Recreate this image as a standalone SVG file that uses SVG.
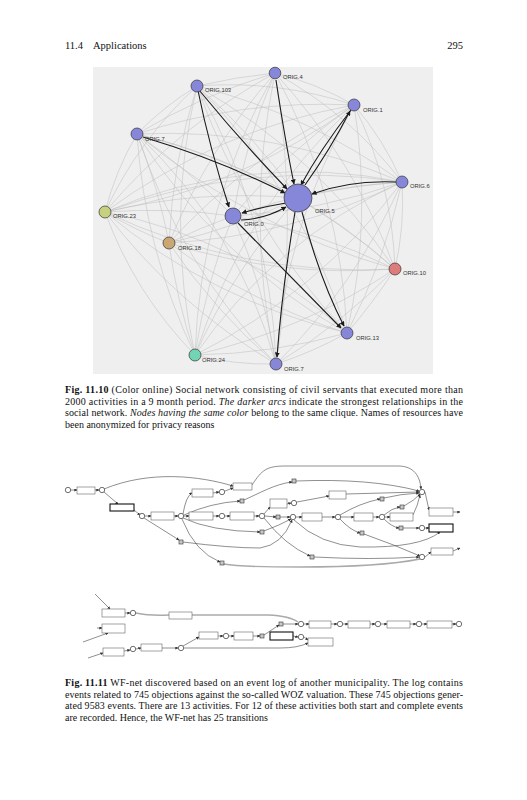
<svg xmlns="http://www.w3.org/2000/svg" width="527" height="800" viewBox="0 0 527 800">
<style>
.hdr{font-family:"Liberation Serif",serif;font-size:10.5px;fill:#111}
.cap{font-family:"Liberation Serif",serif;font-size:10px;fill:#111}
.b{font-weight:bold}
.i{font-style:italic}
.lbl{font-family:"Liberation Sans",sans-serif;font-size:5.8px;fill:#333}
.soft{fill:none;stroke:#bdbdbd;stroke-width:0.5}
.dark{fill:none;stroke:#1a1a1a;stroke-width:1.1;marker-end:url(#ah)}
.nb{fill:#8787da;stroke:#333;stroke-width:0.7}
.arc{fill:none;stroke:#444;stroke-width:0.6}
.arca{fill:none;stroke:#444;stroke-width:0.6;marker-end:url(#wa)}
.grey{fill:none;stroke:#aaa;stroke-width:1.4}
.pl{fill:#fff;stroke:#333;stroke-width:0.7}
.tr{fill:#fff;stroke:#666;stroke-width:0.6}
.tb{fill:#fff;stroke:#111;stroke-width:1.1}
.sq{fill:#c8c8c8;stroke:#333;stroke-width:0.6}
</style>
<defs>
<marker id="ah" viewBox="0 0 10 10" refX="9" refY="5" markerWidth="5" markerHeight="5" markerUnits="userSpaceOnUse" orient="auto"><path d="M0 0L10 5L0 10z" fill="#1a1a1a"/></marker>
<marker id="wa" viewBox="0 0 10 10" refX="9" refY="5" markerWidth="3" markerHeight="3" markerUnits="userSpaceOnUse" orient="auto"><path d="M0 0L10 5L0 10z" fill="#333"/></marker>
</defs>
<rect width="527" height="800" fill="#fff"/>
<text class="hdr" x="65" y="49">11.4</text>
<text class="hdr" x="93" y="49">Applications</text>
<text class="hdr" x="463" y="49" text-anchor="end">295</text>

<rect x="93" y="67" width="340" height="307" fill="#efefef"/>
<g id="connectors-sn">
<path class="soft" d="M275 73A600 600 0 0 0 197 86M275 73A300 300 0 0 1 354 105M275 73A600 600 0 0 0 137 134M275 73A400 400 0 0 1 402 182M275 73A600 600 0 0 0 105 212M275 73A600 600 0 0 0 233 216M275 73A600 600 0 0 0 169 243M275 73A600 600 0 0 1 395 269M275 73A600 600 0 0 1 347 333M275 73A600 600 0 0 0 195 355M275 73A900 900 0 0 1 276 364"/>
<path class="soft" d="M197 86A400 400 0 0 1 354 105M197 86A300 300 0 0 0 137 134M197 86A600 600 0 0 1 402 182M197 86A400 400 0 0 0 105 212M197 86A600 600 0 0 0 169 243M197 86A600 600 0 0 1 395 269M197 86A600 600 0 0 1 347 333M197 86A600 600 0 0 0 195 355M197 86A600 600 0 0 1 276 364"/>
<path class="soft" d="M354 105A600 600 0 0 0 137 134M354 105A300 300 0 0 1 402 182M354 105A600 600 0 0 0 105 212M354 105A600 600 0 0 0 233 216M354 105A600 600 0 0 0 169 243M354 105A400 400 0 0 1 395 269M354 105A600 600 0 0 1 347 333M354 105A600 600 0 0 0 195 355M354 105A600 600 0 0 0 276 364"/>
<path class="soft" d="M137 134A600 600 0 0 1 402 182M137 134A300 300 0 0 0 105 212M137 134A600 600 0 0 1 233 216M137 134A600 600 0 0 1 169 243M137 134A600 600 0 0 1 395 269M137 134A600 600 0 0 0 347 333M137 134A600 600 0 0 0 195 355M137 134A600 600 0 0 0 276 364"/>
<path class="soft" d="M402 182A600 600 0 0 0 105 212M402 182A600 600 0 0 1 233 216M402 182A600 600 0 0 1 169 243M402 182A300 300 0 0 1 395 269M402 182A600 600 0 0 1 347 333M402 182A600 600 0 0 1 195 355M402 182A600 600 0 0 1 276 364"/>
<path class="soft" d="M298 198A600 600 0 0 0 105 212M298 198A600 600 0 0 1 169 243M298 198A600 600 0 0 1 395 269M298 198A600 600 0 0 0 195 355M298 198A600 600 0 0 0 197 86M298 198A600 600 0 0 0 137 134M298 198A600 600 0 0 1 402 182"/>
<path class="soft" d="M105 212A600 600 0 0 1 233 216M105 212A400 400 0 0 0 169 243M105 212A600 600 0 0 0 395 269M105 212A600 600 0 0 0 347 333M105 212A400 400 0 0 0 195 355M105 212A600 600 0 0 0 276 364"/>
<path class="soft" d="M233 216A600 600 0 0 0 169 243M233 216A600 600 0 0 1 395 269M233 216A600 600 0 0 0 195 355M233 216A600 600 0 0 1 276 364M233 216A600 600 0 0 1 402 182"/>
<path class="soft" d="M169 243A600 600 0 0 0 395 269M169 243A600 600 0 0 0 347 333M169 243A600 600 0 0 0 195 355M169 243A600 600 0 0 0 276 364"/>
<path class="soft" d="M395 269A600 600 0 0 1 347 333M395 269A600 600 0 0 1 195 355M395 269A600 600 0 0 1 276 364M347 333A600 600 0 0 1 195 355M347 333A400 400 0 0 1 276 364M195 355A300 300 0 0 0 276 364"/>
<path class="soft" d="M105 212A600 600 0 0 0 354 105M137 134A700 700 0 0 0 395 269M197 86A700 700 0 0 0 347 333M275 73A700 700 0 0 0 276 364M105 212A500 500 0 0 1 402 182M195 355A500 500 0 0 1 402 182M276 364A500 500 0 0 0 137 134M347 333A500 500 0 0 0 105 212"/>
<path class="dark" d="M197 86Q210 150 229 207"/>
<path class="dark" d="M199 90Q240 140 287 189"/>
<path class="dark" d="M276 80Q285 140 294 184"/>
<path class="dark" d="M351 110Q320 150 301 185"/>
<path class="dark" d="M305 185Q330 150 350 111"/>
<path class="dark" d="M143 137Q220 160 285 193"/>
<path class="dark" d="M396 182Q350 180 312 194"/>
<path class="dark" d="M286 203Q262 207 242 213"/>
<path class="dark" d="M241 220Q265 219 286 207"/>
<path class="dark" d="M295 212Q282 290 277 357"/>
<path class="dark" d="M302 212Q320 280 344 326"/>
<path class="dark" d="M238 223L341 328"/>
</g>
<g id="n-orig4"><circle class="nb" cx="275" cy="73" r="5.8"/><text class="lbl" x="283" y="79">ORIG.4</text></g>
<g id="n-orig103"><circle class="nb" cx="197" cy="86" r="6"/><text class="lbl" x="205" y="92">ORIG.103</text></g>
<g id="n-orig1"><circle class="nb" cx="354" cy="105" r="6"/><text class="lbl" x="363" y="112">ORIG.1</text></g>
<g id="n-orig7a"><circle class="nb" cx="137" cy="134" r="6"/><text class="lbl" x="145" y="141">ORIG.7</text></g>
<g id="n-orig6"><circle class="nb" cx="402" cy="182" r="6"/><text class="lbl" x="410" y="188">ORIG.6</text></g>
<g id="n-orig5"><circle class="nb" cx="298" cy="198" r="14"/><text class="lbl" x="315" y="213">ORIG.5</text></g>
<g id="n-orig23"><circle cx="105" cy="212" r="6" fill="#c6d07e" stroke="#333" stroke-width="0.7"/><text class="lbl" x="113" y="218">ORIG.23</text></g>
<g id="n-orig0"><circle class="nb" cx="233" cy="216" r="8"/><text class="lbl" x="244" y="226">ORIG.0</text></g>
<g id="n-orig18"><circle cx="169" cy="243" r="6" fill="#caa673" stroke="#333" stroke-width="0.7"/><text class="lbl" x="178" y="250">ORIG.18</text></g>
<g id="n-orig10"><circle cx="395" cy="269" r="6" fill="#de7c7c" stroke="#333" stroke-width="0.7"/><text class="lbl" x="403" y="275">ORIG.10</text></g>
<g id="n-orig13"><circle class="nb" cx="347" cy="333" r="6"/><text class="lbl" x="356" y="340">ORIG.13</text></g>
<g id="n-orig24"><circle cx="195" cy="355" r="6" fill="#72d3b5" stroke="#333" stroke-width="0.7"/><text class="lbl" x="202" y="362">ORIG.24</text></g>
<g id="n-orig7"><circle class="nb" cx="276" cy="364" r="6"/><text class="lbl" x="284" y="371">ORIG.7</text></g>

<text class="cap" x="65" y="393" textLength="398" lengthAdjust="spacing"><tspan class="b">Fig. 11.10</tspan>  (Color online) Social network consisting of civil servants that executed more than</text>
<text class="cap" x="65" y="404.5" textLength="398" lengthAdjust="spacing">2000 activities in a 9 month period. <tspan class="i">The darker arcs</tspan> indicate the strongest relationships in the</text>
<text class="cap" x="65" y="416" textLength="398" lengthAdjust="spacing">social network. <tspan class="i">Nodes having the same color</tspan> belong to the same clique. Names of resources have</text>
<text class="cap" x="65" y="427.5">been anonymized for privacy reasons</text>

<g id="connectors-wf">
<path class="arca" d="M71 490L77 490"/>
<path class="arca" d="M95 490L99 490"/>
<path class="arca" d="M104 489C150 470 200 476 233 486"/>
<path class="arca" d="M104 492L118 504"/>
<path class="arca" d="M134 510L140 515"/>
<path class="arca" d="M145 516L151 516"/>
<path class="arca" d="M174 516L178 516"/>
<path class="arca" d="M144 518L179 540"/>
<path class="arca" d="M183 514Q186 496 192 493"/>
<path class="arca" d="M213 493L219 492"/>
<path class="arca" d="M225 491L233 488"/>
<path class="arca" d="M184 515Q210 503 240 501"/>
<path class="arca" d="M184 516L189 516"/>
<path class="arca" d="M213 516L219 516"/>
<path class="arca" d="M225 516L230 516"/>
<path class="arca" d="M254 516L259 516"/>
<path class="arca" d="M183 518Q210 531 260 532"/>
<path class="arca" d="M182 519Q195 552 220 562"/>
<path class="arca" d="M252 485C262 470 266 466 286 466L398 466C414 466 420 476 421 489"/>
<path class="arca" d="M244 500C260 493 275 484 292 482"/>
<path class="arca" d="M296 481Q370 478 419 491"/>
<path class="arca" d="M264 514L270 507"/>
<path class="arca" d="M287 504L291 503"/>
<path class="arca" d="M297 502L329 496"/>
<path class="arca" d="M346 494L419 492"/>
<path class="arca" d="M265 516L276 517"/>
<path class="arca" d="M280 517L290 517"/>
<path class="arca" d="M296 517L302 517"/>
<path class="arca" d="M322 517L335 517"/>
<path class="arca" d="M341 517L354 517"/>
<path class="arca" d="M373 517L379 517"/>
<path class="arca" d="M385 517L390 517"/>
<path class="arca" d="M413 515Q418 505 420 495"/>
<path class="arca" d="M340 515Q360 503 380 499"/>
<path class="arca" d="M384 498Q400 494 419 493"/>
<path class="arca" d="M384 515Q392 508 400 507"/>
<path class="arca" d="M404 506Q415 500 420 494"/>
<path class="arca" d="M384 519Q392 527 399 528"/>
<path class="arca" d="M403 528L419 528"/>
<path class="arca" d="M425 528L429 528"/>
<path class="arca" d="M340 519Q350 530 360 533"/>
<path class="arca" d="M364 534Q395 545 420 556"/>
<path class="arca" d="M264 518Q285 545 310 556"/>
<path class="arca" d="M314 557Q370 560 419 557"/>
<path class="arca" d="M294 520Q320 545 360 547Q420 548 440 532"/>
<path class="arca" d="M183 542Q230 548 260 548Q282 545 292 520"/>
<path class="arca" d="M264 531Q280 525 291 519"/>
<path class="grey" d="M224 564Q240 567 300 567Q380 567 420 559"/>
<path class="arca" d="M425 492L429 510"/>
<path class="arca" d="M425 557L431 552"/>
<path class="arca" d="M453 512L460 512"/>
<path class="arca" d="M453 551L460 548"/>
<path class="arca" d="M95 594L110 609"/>
<path class="arca" d="M125 613L130 613"/>
<path class="grey" d="M136 613Q150 616 169 615"/>
<path class="grey" d="M192 615L268 615Q290 616 298 622"/>
<path class="arca" d="M97 628L102 628"/>
<path class="arca" d="M83 642L108 633"/>
<path class="arca" d="M88 658L103 653"/>
<path class="arca" d="M124 651L130 650"/>
<path class="arca" d="M136 649L141 648"/>
<path class="arca" d="M162 648L178 648"/>
<path class="arca" d="M183 646L199 637"/>
<path class="arca" d="M218 636L223 636"/>
<path class="arca" d="M229 636L234 636"/>
<path class="arca" d="M253 636L260 636"/>
<path class="arca" d="M264 635L279 625"/>
<path class="arca" d="M283 624L298 624"/>
<path class="arca" d="M184 648L280 648Q298 648 308 643"/>
<path class="arca" d="M293 636L298 637"/>
<path class="arca" d="M304 637L308 640"/>
<path class="arca" d="M304 624L309 624"/>
<path class="arca" d="M331 624L337 624"/>
<path class="arca" d="M343 624L348 624"/>
<path class="arca" d="M370 624L375 624"/>
<path class="arca" d="M381 624L387 624"/>
<path class="arca" d="M410 624L416 624"/>
<path class="arca" d="M422 624L427 624"/>
<path class="arca" d="M452 624L456 624"/>
</g>
<g id="wf-places">
<circle class="pl" cx="68" cy="490" r="2.7"/><circle class="pl" cx="102" cy="490" r="2.7"/><circle class="pl" cx="142" cy="516" r="2.7"/><circle class="pl" cx="181" cy="516" r="2.7"/><circle class="pl" cx="222" cy="492" r="2.7"/><circle class="pl" cx="222" cy="516" r="2.7"/><circle class="pl" cx="262" cy="516" r="2.7"/><circle class="pl" cx="294" cy="503" r="2.7"/><circle class="pl" cx="293" cy="517" r="2.7"/><circle class="pl" cx="338" cy="517" r="2.7"/><circle class="pl" cx="382" cy="517" r="2.7"/><circle class="pl" cx="422" cy="492" r="2.7"/><circle class="pl" cx="422" cy="528" r="2.7"/><circle class="pl" cx="422" cy="557" r="2.7"/>
<circle class="pl" cx="133" cy="613" r="2.7"/><circle class="pl" cx="133" cy="649" r="2.7"/><circle class="pl" cx="181" cy="648" r="2.7"/><circle class="pl" cx="226" cy="636" r="2.7"/><circle class="pl" cx="301" cy="624" r="2.7"/><circle class="pl" cx="301" cy="637" r="2.7"/><circle class="pl" cx="340" cy="624" r="2.7"/><circle class="pl" cx="378" cy="624" r="2.7"/><circle class="pl" cx="419" cy="624" r="2.7"/><circle class="pl" cx="459" cy="624" r="2.7"/>
</g>
<g id="wf-transitions">
<rect class="tr" x="77" y="487" width="18" height="7"/><rect class="tb" x="110" y="504" width="24" height="7"/><rect class="tr" x="151" y="512" width="23" height="8"/><rect class="tr" x="192" y="489" width="21" height="8"/><rect class="tr" x="189" y="512" width="24" height="8"/><rect class="tr" x="230" y="512" width="24" height="8"/><rect class="tr" x="233" y="483" width="19" height="7"/><rect class="tr" x="270" y="499" width="17" height="9"/><rect class="tr" x="329" y="491" width="17" height="8"/><rect class="tr" x="302" y="513" width="20" height="8"/><rect class="tr" x="354" y="513" width="19" height="8"/><rect class="tr" x="390" y="513" width="23" height="8"/><rect class="tr" x="429" y="508" width="24" height="8"/><rect class="tb" x="429" y="524" width="24" height="8"/><rect class="tr" x="431" y="548" width="22" height="7"/>
<rect class="tr" x="102" y="609" width="23" height="8"/><rect class="tr" x="169" y="612" width="23" height="7"/><rect class="tr" x="102" y="624" width="23" height="9"/><rect class="tr" x="103" y="648" width="21" height="8"/><rect class="tr" x="141" y="644" width="21" height="7"/><rect class="tr" x="199" y="632" width="19" height="7"/><rect class="tr" x="234" y="632" width="19" height="8"/><rect class="tb" x="270" y="632" width="23" height="8"/><rect class="tr" x="308" y="638" width="25" height="8"/><rect class="tr" x="309" y="621" width="22" height="7"/><rect class="tr" x="348" y="621" width="22" height="7"/><rect class="tr" x="387" y="621" width="23" height="7"/><rect class="tr" x="427" y="621" width="25" height="7"/>
<rect class="sq" x="240" y="499" width="4" height="4"/><rect class="sq" x="260" y="530" width="4" height="4"/><rect class="sq" x="179" y="540" width="4" height="4"/><rect class="sq" x="220" y="561" width="4" height="4"/><rect class="sq" x="292" y="479" width="4" height="4"/><rect class="sq" x="276" y="515" width="4" height="4"/><rect class="sq" x="380" y="497" width="4" height="4"/><rect class="sq" x="400" y="505" width="4" height="4"/><rect class="sq" x="399" y="526" width="4" height="4"/><rect class="sq" x="360" y="531" width="4" height="4"/><rect class="sq" x="310" y="555" width="4" height="4"/><rect class="sq" x="260" y="634" width="4" height="4"/><rect class="sq" x="279" y="622" width="4" height="4"/>
</g>

<text class="cap" x="65" y="686" textLength="398" lengthAdjust="spacing"><tspan class="b">Fig. 11.11</tspan>  WF-net discovered based on an event log of another municipality. The log contains</text>
<text class="cap" x="65" y="697.5" textLength="398" lengthAdjust="spacing">events related to 745 objections against the so-called WOZ valuation. These 745 objections gener-</text>
<text class="cap" x="65" y="709" textLength="398" lengthAdjust="spacing">ated 9583 events. There are 13 activities. For 12 of these activities both start and complete events</text>
<text class="cap" x="65" y="720.5">are recorded. Hence, the WF-net has 25 transitions</text>
</svg>
